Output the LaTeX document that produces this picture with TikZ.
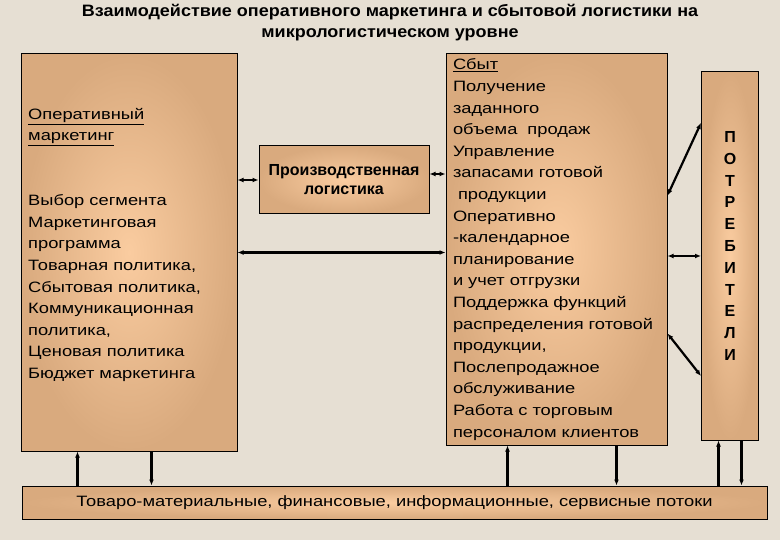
\documentclass[tikz,border=0pt]{standalone}
\usepackage{fontspec}
\setmainfont{Liberation Sans}
\newfontfamily\widefont{Liberation Sans}[FakeStretch=1.22]
\newfontfamily\headfont{Liberation Sans}[FakeStretch=1.09]
\usetikzlibrary{arrows.meta}
\definecolor{bgbeige}{HTML}{E6DFD3}
\definecolor{boxedge}{HTML}{D9AA7E}
\definecolor{boxmid}{HTML}{FACCA0}
\tikzset{
	block/.style={draw=black, line width=1pt, inner color=boxmid, outer color=boxedge, inner sep=0pt},
	txt/.style={font=\widefont\fontsize{15}{21.6}\selectfont, align=left, inner sep=0pt},
	flow/.style={line width=2.2pt},
}
\begin{document}
\begin{tikzpicture}[x=1pt, y=-1pt, >={Latex[length=6pt,width=5pt]}]
	
	\fill[bgbeige] (0,0) rectangle (780,540);
	\useasboundingbox (0,0) rectangle (780,540);
	
	\node[font=\headfont\bfseries\fontsize{16.5}{21}\selectfont, align=center] (T) at (390,23) {Взаимодействие оперативного маркетинга и сбытовой логистики на\\микрологистическом уровне};
	
	\node[block, minimum width=216pt, minimum height=397pt] (OM) at (129,252.5) {};
	\node[block, minimum width=170pt, minimum height=68pt, align=center, font=\bfseries\fontsize{16}{19}\selectfont] (PL) at (344,180) {Производственная\\логистика};
	\node[block, minimum width=221pt, minimum height=391pt, txt, text width=207pt] (SB) at (556.5,249.5) {\underline{Сбыт}\\Получение\\заданного\\объема\ \ продаж\\Управление\\запасами готовой\\\ продукции\\Оперативно\\-календарное\\планирование\\и учет отгрузки\\Поддержка функций\\распределения готовой\\продукции,\\Послепродажное\\обслуживание\\Работа с торговым\\персоналом клиентов};
	\node[block, minimum width=57pt, minimum height=368pt] (PT) at (730,256) {};
	\node[block, minimum width=745pt, minimum height=33pt, txt] (FL) at (394.5,502.5) {Товаро-материальные, финансовые, информационные, сервисные потоки};
	
	\node[txt, anchor=north west] (OMt) at (28,108) {\underline{Оперативный}\\\underline{маркетинг}\\[43.2pt]Выбор сегмента\\Маркетинговая\\программа\\Товарная политика,\\Сбытовая политика,\\Коммуникационная\\политика,\\Ценовая политика\\Бюджет маркетинга};
	\node[font=\bfseries\fontsize{16}{21.8}\selectfont, align=center, inner sep=0pt] (PTt) at (730,246) {П\\О\\Т\\Р\\Е\\Б\\И\\Т\\Е\\Л\\И};
	
	% links between the boxes
	\draw[flow,<->] (OM.east |- PL.west) -- (PL.west);
	\draw[flow,<->] ([yshift=6pt]PL.east) -- ([yshift=6pt]PL.east -| SB.west);
	\draw[flow,<->] (OM.east) -- (OM.east -| SB.west);
	\draw[flow,<->] ([yshift=54pt]SB.east) -- ([yshift=133pt]PT.west);
	\draw[flow,<->] (SB.east |- PT.west) -- (PT.west);
	\draw[flow,<->] ([yshift=-84pt]SB.east) -- ([yshift=-120pt]PT.west);
	
	% flows to and from the bottom bar
	\draw[flow,->] ([xshift=57pt]OM.south west |- FL.north) -- ([xshift=57pt]OM.south west);
	\draw[flow,->] ([xshift=131pt]OM.south west) -- ([xshift=131pt]OM.south west |- FL.north);
	\draw[flow,->] ([xshift=62pt]SB.south west |- FL.north) -- ([xshift=62pt]SB.south west);
	\draw[flow,->] ([xshift=171pt]SB.south west) -- ([xshift=171pt]SB.south west |- FL.north);
	\draw[flow,->] ([xshift=17.5pt]PT.south west |- FL.north) -- ([xshift=17.5pt]PT.south west);
	\draw[flow,->] ([xshift=40.5pt]PT.south west) -- ([xshift=40.5pt]PT.south west |- FL.north);
	
\end{tikzpicture}
\end{document}
